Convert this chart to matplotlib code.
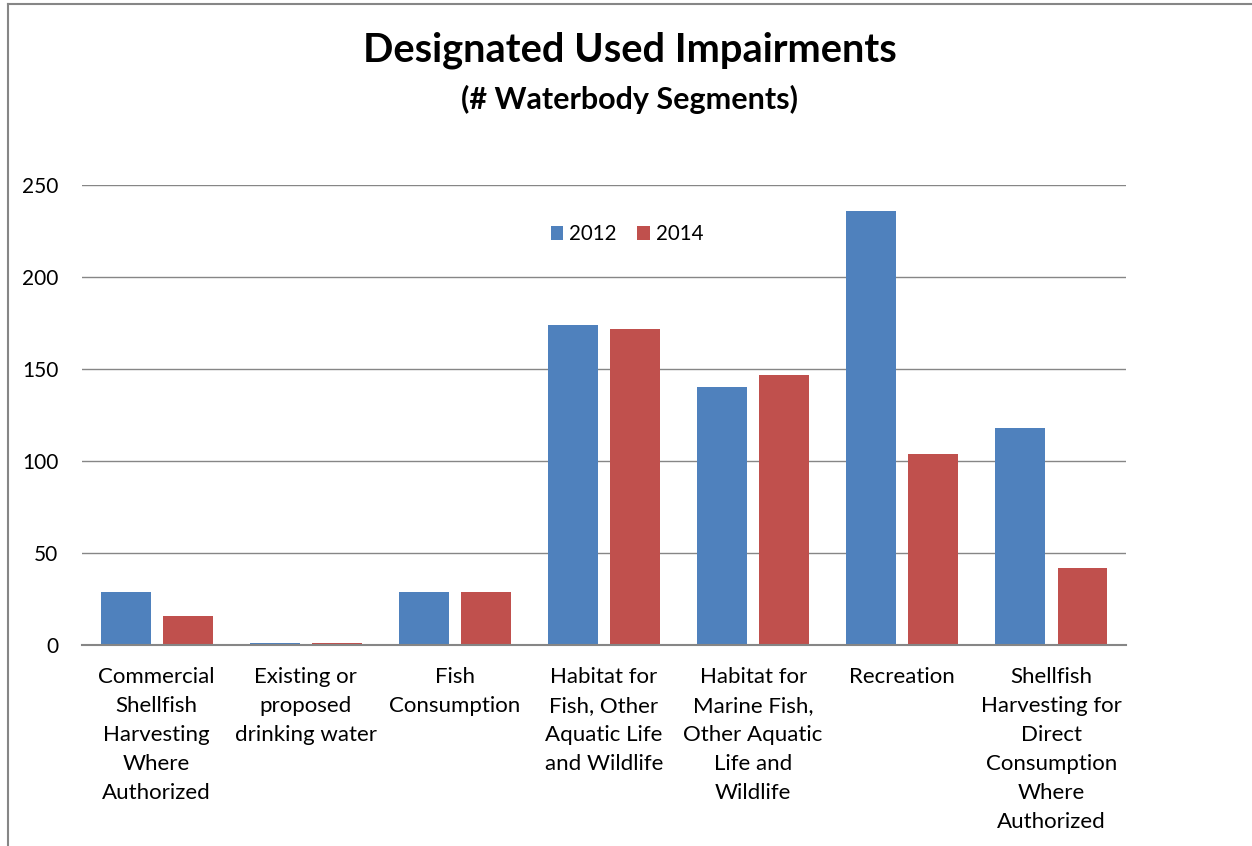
import numpy as np
import matplotlib.pyplot as plt
from matplotlib.lines import Line2D

plt.rcParams['font.family'] = ['Lato', 'DejaVu Sans']

categories = ["Commercial\nShellfish\nHarvesting\nWhere\nAuthorized",
              "Existing or\nproposed\ndrinking water",
              "Fish\nConsumption",
              "Habitat for\nFish, Other\nAquatic Life\nand Wildlife",
              "Habitat for\nMarine Fish,\nOther Aquatic\nLife and\nWildlife",
              "Recreation",
              "Shellfish\nHarvesting for\nDirect\nConsumption\nWhere\nAuthorized"]
values_2012 = [29, 1, 29, 174, 140, 236, 118]
values_2014 = [16, 1, 29, 172, 147, 104, 42]
yticks = [0, 50, 100, 150, 200, 250]

fig = plt.figure(figsize=(12.52, 8.46), dpi=100)
ax = fig.add_axes([0.0655, 0.2376, 0.8339, 0.5437])

x = np.arange(len(categories))
w = 0.335
ax.bar(x - 0.208, values_2012, w, color='#4f81bd', label='2012')
ax.bar(x + 0.208, values_2014, w, color='#c0504d', label='2014')

ax.set_xlim(-0.5, len(categories) - 0.5)
ax.set_ylim(0, 250)
ax.set_yticks(yticks)
ax.yaxis.grid(True, color='#868686', linewidth=1)
ax.set_axisbelow(True)
for s in ['top', 'right', 'left']:
    ax.spines[s].set_visible(False)
ax.spines['bottom'].set_color('#868686')
ax.spines['bottom'].set_linewidth(1.5)
ax.tick_params(axis='y', length=0, labelsize=15, pad=17)
ax.tick_params(axis='x', length=0, labelsize=16, pad=16)
ax.set_xticks(x)
ax.set_xticklabels(categories, linespacing=1.56)

ax.legend(loc='center', bbox_to_anchor=(0.522, 0.893), ncol=2, frameon=False,
          fontsize=14.8, handlelength=0.6, handleheight=0.6, handletextpad=0.3,
          columnspacing=1.0)

fig.text(0.503, 0.941, "Designated Used Impairments", ha='center', va='center',
         fontsize=28.7, fontweight='bold')
fig.text(0.503, 0.882, "(# Waterbody Segments)", ha='center', va='center',
         fontsize=22, fontweight='bold')

# outer chart frame (only top and left edges visible)
fig.add_artist(Line2D([0.0064, 1.0], [0.995, 0.995], color='#868686', lw=1.5,
                      transform=fig.transFigure))
fig.add_artist(Line2D([0.0064, 0.0064], [0.0, 0.995], color='#868686', lw=1.5,
                      transform=fig.transFigure))

plt.savefig('out.png', dpi=100)
